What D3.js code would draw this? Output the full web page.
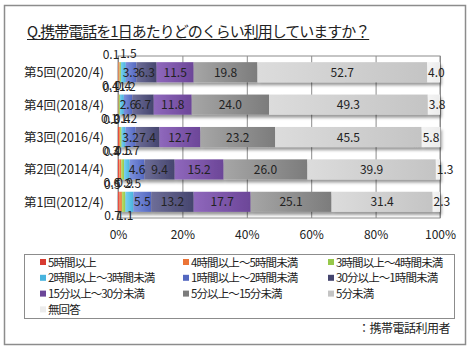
<!DOCTYPE html>
<html>
<head>
  <meta charset="utf-8">
  <title>携帯電話の利用時間</title>
  <script src="https://cdn.jsdelivr.net/npm/d3@7"></script>
  <style>
    body { margin: 0; background: #fff; }
    text { font-family: "Noto Sans CJK JP", "Noto Sans", sans-serif; }
  </style>
</head>
<body>
  <svg width="470" height="350" id="mainsvg"></svg>
  <script>
    // 調査回
    const rounds = ['第5回(2020/4)', '第4回(2018/4)', '第3回(2016/4)', '第2回(2014/4)', '第1回(2012/4)'];
    // 利用時間の区分
    const categories = ['5時間以上', '4時間以上～5時間未満', '3時間以上～4時間未満',
      '2時間以上～3時間未満', '1時間以上～2時間未満', '30分以上～1時間未満',
      '15分以上～30分未満', '5分以上～15分未満', '5分未満', '無回答'];
    // 各回の値（%）
    const r2020 = [0.1, 0.4, 0.4, 1.5, 3.3, 6.3, 11.5, 19.8, 52.7, 4.0];
    const r2018 = [0.1, 0.1, 0.4, 1.2, 2.6, 6.7, 11.8, 24.0, 49.3, 3.8];
    const r2016 = [0.3, 0.3, 0.5, 1.2, 3.2, 7.4, 12.7, 23.2, 45.5, 5.8];
    const r2014 = [0.4, 0.6, 0.9, 1.7, 4.6, 9.4, 15.2, 26.0, 39.9, 1.3];
    const r2012 = [0.5, 0.7, 1.1, 2.5, 5.5, 13.2, 17.7, 25.1, 31.4, 2.3];
    const xTicks = [0, 20, 40, 60, 80, 100];

    const values = [r2020, r2018, r2016, r2014, r2012];
    // 区分ごとの色 [左, 右]
    const colors = [['#f0584c', '#d83a30'], ['#f79a5e', '#ec7436'], ['#b8e06e', '#96c84a'],
      ['#78cff0', '#48b4de'], ['#7c90dc', '#5468c0'], ['#6e6e98', '#45456e'],
      ['#8f68bc', '#6c4698'], ['#a6a6a6', '#7c7c7c'], ['#dcdcdc', '#c4c4c4'], ['#f4f4f4', '#ececec']];

    const svg = d3.select('#mainsvg');
    const margin = { top: 56, right: 30, bottom: 132, left: 118 };
    const innerWidth = 470 - margin.left - margin.right;
    const innerHeight = 350 - margin.top - margin.bottom;

    // 外枠
    svg.append('rect').attr('x', 4.5).attr('y', 5.5).attr('width', 461).attr('height', 339)
      .attr('fill', '#fff').attr('stroke', '#8c8c8c').attr('stroke-width', 1.5);

    // タイトル
    const title = svg.append('text').attr('x', 27).attr('y', 37)
      .attr('font-size', '15px').attr('letter-spacing', '-1px').attr('fill', '#222')
      .text('Q.携帯電話を1日あたりどのくらい利用していますか？');
    const tw = title.node().getComputedTextLength();
    svg.append('line').attr('x1', 27).attr('x2', 27 + tw).attr('y1', 39.5).attr('y2', 39.5)
      .attr('stroke', '#222').attr('stroke-width', 1.2);

    const defs = svg.append('defs');
    colors.forEach((c, i) => {
      const lg = defs.append('linearGradient').attr('id', 'grad' + i)
        .attr('x1', '0%').attr('x2', '100%').attr('y1', '0%').attr('y2', '0%');
      lg.append('stop').attr('offset', '0%').attr('stop-color', c[0]);
      lg.append('stop').attr('offset', '100%').attr('stop-color', c[1]);
    });
    const shadow = defs.append('filter').attr('id', 'shadow')
      .attr('x', '-5%').attr('y', '-20%').attr('width', '115%').attr('height', '160%');
    shadow.append('feDropShadow').attr('dx', 1.5).attr('dy', 3).attr('stdDeviation', 1.5)
      .attr('flood-color', '#000').attr('flood-opacity', 0.4);

    const g = svg.append('g').attr('transform', `translate(${margin.left}, ${margin.top})`);

    const xScale = d3.scaleLinear().domain([0, 100]).range([0, innerWidth]);
    const yScale = d3.scaleBand().domain(rounds).range([0, innerHeight])
      .paddingInner(0.38).paddingOuter(0.19);

    // 枠と縦グリッド
    g.append('rect').attr('width', innerWidth).attr('height', innerHeight)
      .attr('fill', 'none').attr('stroke', '#8c8c8c');
    const xAxis = d3.axisBottom(xScale).tickValues(xTicks).tickSize(-innerHeight)
      .tickFormat(d => d + '%').tickPadding(12);
    const xAxisGroup = g.append('g').attr('transform', `translate(0, ${innerHeight})`).call(xAxis);
    xAxisGroup.select('.domain').remove();
    xAxisGroup.selectAll('.tick line').attr('stroke', '#8c8c8c');
    xAxisGroup.selectAll('.tick text').attr('font-size', '12px').attr('fill', '#222');

    // 棒
    rounds.forEach((r, ri) => {
      const vals = values[ri];
      const y = yScale(r);
      const h = yScale.bandwidth();
      const bar = g.append('g').attr('filter', 'url(#shadow)');
      let acc = 0;
      const segs = vals.map((v, ci) => {
        const s = { v, ci, x0: acc, x1: acc + v };
        acc += v;
        return s;
      });
      bar.selectAll('rect').data(segs).join('rect')
        .attr('x', d => xScale(d.x0)).attr('y', y)
        .attr('width', d => xScale(d.x1) - xScale(d.x0)).attr('height', h)
        .attr('fill', d => `url(#grad${d.ci})`);

      // 値ラベル
      segs.forEach(d => {
        const t = g.append('text').attr('font-size', '12px').attr('fill', '#222')
          .text(d.v.toFixed(1));
        if (d.ci >= 4 && d.ci <= 8) {
          t.attr('x', xScale((d.x0 + d.x1) / 2)).attr('y', y + h / 2 + 4.5).attr('text-anchor', 'middle');
        } else if (d.ci === 9) {
          t.attr('x', xScale(d.x0) + 1).attr('y', y + h / 2 + 4.5).attr('text-anchor', 'start');
        } else if (d.ci === 0) {
          t.attr('x', xScale(d.x1) + 1).attr('y', y - 3).attr('text-anchor', 'end');
        } else if (d.ci === 3) {
          t.attr('x', xScale(d.x0) - 1).attr('y', y - 4).attr('text-anchor', 'start');
        } else if (d.ci === 1) {
          t.attr('x', xScale(d.x1) - 1).attr('y', y + h + 8).attr('text-anchor', 'end');
        } else {
          t.attr('x', xScale(d.x0) - 5).attr('y', y + h + 8).attr('text-anchor', 'start');
        }
      });
    });

    // 縦軸ラベル
    rounds.forEach(r => {
      svg.append('text').attr('x', 104).attr('y', margin.top + yScale(r) + yScale.bandwidth() / 2 + 5)
        .attr('text-anchor', 'end').attr('font-size', '12.5px').attr('fill', '#222').text(r);
    });

    // 凡例
    svg.append('rect').attr('x', 24.5).attr('y', 254.5).attr('width', 430).attr('height', 64)
      .attr('fill', 'none').attr('stroke', '#8c8c8c');
    const colX = [40, 183, 328];
    categories.forEach((c, i) => {
      const cx = colX[i % 3];
      const cy = 262 + Math.floor(i / 3) * 15.8;
      svg.append('rect').attr('x', cx).attr('y', cy - 3).attr('width', 6).attr('height', 6)
        .attr('fill', colors[i][1]);
      svg.append('text').attr('x', cx + 8).attr('y', cy + 4.5).attr('font-size', '11.5px')
        .attr('letter-spacing', '-0.9px').attr('fill', '#222').text(c);
    });

    svg.append('text').attr('x', 450).attr('y', 333).attr('text-anchor', 'end')
      .attr('font-size', '12px').attr('letter-spacing', '-0.5px').attr('fill', '#222').text('：携帯電話利用者');
  </script>
</body>
</html>
